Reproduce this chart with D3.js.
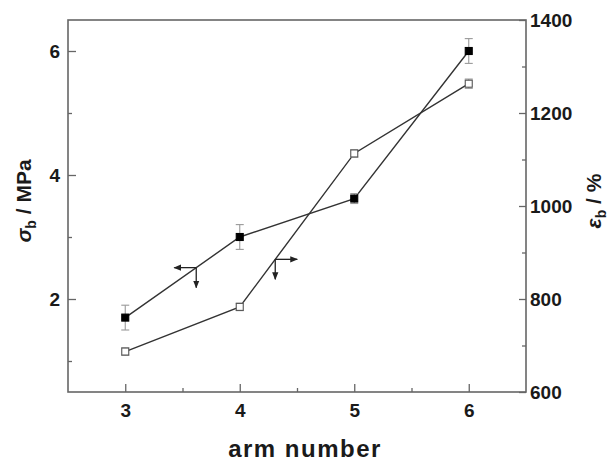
<!DOCTYPE html>
<html>
<head>
<meta charset="utf-8">
<script src="https://cdn.jsdelivr.net/npm/d3@7"></script>
<style>
  body { margin: 0; background: #fff; }
  text { font-family: "Liberation Sans", Arial, sans-serif; font-weight: bold; fill: #1a1a1a; }
</style>
</head>
<body>
<div id="svgContainer"></div>
<script>
// data
var armNumbers = [3, 4, 5, 6];
var sigmaB = [1.7, 3.0, 3.62, 6.0];
var sigmaErr = [0.2, 0.2, 0.08, 0.2];
var epsB = [687, 783, 1113, 1263];
var epsErr = [8, 8, 8, 10];

var armTicks = [3, 4, 5, 6];
var armMinor = [3.5, 4.5, 5.5];
var sigmaTicks = [2, 4, 6];
var sigmaMinor = [1, 3, 5];
var epsTicks = [600, 800, 1000, 1200, 1400];
var epsMinor = [700, 900, 1100, 1300];

// where the little "which axis" arrows sit on each line
var sigmaArrowAt = 3.62;
var epsArrowAt = 4.31;

var W = 616, H = 461;
var plotL = 68, plotT = 20, plotR = 526, plotB = 392;

var svg = d3.select("#svgContainer").append("svg")
  .attr("width", W).attr("height", H);

var x = d3.scaleLinear().domain([2.5, 6.5]).range([plotL, plotR]);
var yL = d3.scaleLinear().domain([0.5, 6.5]).range([plotB, plotT]);
var yR = d3.scaleLinear().domain([600, 1400]).range([plotB, plotT]);

var axisColor = "#666";

// frame
svg.append("rect")
  .attr("x", plotL).attr("y", plotT)
  .attr("width", plotR - plotL).attr("height", plotB - plotT)
  .attr("fill", "none").attr("stroke", axisColor).attr("stroke-width", 1.6);

function styleAxis(g) {
  g.select(".domain").remove();
  g.selectAll(".tick line").attr("stroke", axisColor).attr("stroke-width", 1.3);
  g.selectAll("text").attr("font-size", 19).attr("fill", "#1a1a1a");
}

// bottom
svg.append("g").attr("transform", "translate(0," + plotB + ")")
  .call(d3.axisBottom(x).tickValues(armTicks).tickSize(-8).tickPadding(12).tickFormat(d3.format("d")))
  .call(styleAxis);
svg.append("g").attr("transform", "translate(0," + plotB + ")")
  .call(d3.axisBottom(x).tickValues(armMinor).tickSize(-4).tickFormat(""))
  .call(styleAxis);

// left
svg.append("g").attr("transform", "translate(" + plotL + ",0)")
  .call(d3.axisLeft(yL).tickValues(sigmaTicks).tickSize(-8).tickPadding(8).tickFormat(d3.format("d")))
  .call(styleAxis);
svg.append("g").attr("transform", "translate(" + plotL + ",0)")
  .call(d3.axisLeft(yL).tickValues(sigmaMinor).tickSize(-4).tickFormat(""))
  .call(styleAxis);

// right
svg.append("g").attr("transform", "translate(" + plotR + ",0)")
  .call(d3.axisRight(yR).tickValues(epsTicks).tickSize(-7).tickPadding(4).tickFormat(d3.format("d")))
  .call(styleAxis);
svg.append("g").attr("transform", "translate(" + plotR + ",0)")
  .call(d3.axisRight(yR).tickValues(epsMinor).tickSize(-4).tickFormat(""))
  .call(styleAxis);

// axis titles
svg.append("text")
  .attr("x", (plotL + plotR) / 2 + 8).attr("y", 457)
  .attr("text-anchor", "middle").attr("font-size", 24)
  .attr("letter-spacing", 1.5)
  .text("arm number");

var tl = svg.append("text")
  .attr("transform", "translate(31," + ((plotT + plotB) / 2 - 5) + ") rotate(-90)")
  .attr("text-anchor", "middle").attr("font-size", 21);
tl.append("tspan").attr("font-style", "italic").text("σ");
tl.append("tspan").attr("font-size", 14).attr("dy", 5).text("b");
tl.append("tspan").attr("dy", -5).text(" / MPa");

var tr = svg.append("text")
  .attr("transform", "translate(601," + ((plotT + plotB) / 2 - 5) + ") rotate(-90)")
  .attr("text-anchor", "middle").attr("font-size", 21);
tr.append("tspan").attr("font-style", "italic").text("ε");
tr.append("tspan").attr("font-size", 14).attr("dy", 5).text("b");
tr.append("tspan").attr("dy", -5).text(" / %");

// series
var sigmaPts = armNumbers.map(function(a, i) { return { x: a, y: sigmaB[i], e: sigmaErr[i] }; });
var epsPts = armNumbers.map(function(a, i) { return { x: a, y: epsB[i], e: epsErr[i] }; });

function drawSeries(pts, yScale, filled) {
  var line = d3.line().x(function(d) { return x(d.x); }).y(function(d) { return yScale(d.y); });
  svg.append("path").datum(pts).attr("d", line)
    .attr("fill", "none").attr("stroke", "#333").attr("stroke-width", 1.4);

  var eb = svg.append("g").attr("stroke", "#999").attr("stroke-width", 1.1);
  pts.forEach(function(d) {
    var cx = x(d.x), y1 = yScale(d.y + d.e), y2 = yScale(d.y - d.e);
    eb.append("line").attr("x1", cx).attr("x2", cx).attr("y1", y1).attr("y2", y2);
    eb.append("line").attr("x1", cx - 4).attr("x2", cx + 4).attr("y1", y1).attr("y2", y1);
    eb.append("line").attr("x1", cx - 4).attr("x2", cx + 4).attr("y1", y2).attr("y2", y2);
  });

  svg.append("g").selectAll("rect").data(pts).enter().append("rect")
    .attr("x", function(d) { return x(d.x) - 3.5; })
    .attr("y", function(d) { return yScale(d.y) - 3.5; })
    .attr("width", 7).attr("height", 7)
    .attr("fill", filled ? "#000" : "#fff")
    .attr("stroke", filled ? "#000" : "#555")
    .attr("stroke-width", 1.1);
}

drawSeries(sigmaPts, yL, true);
drawSeries(epsPts, yR, false);

// arrow markers
var defs = svg.append("defs");
defs.append("marker").attr("id", "head")
  .attr("viewBox", "0 0 10 10").attr("refX", 9).attr("refY", 5)
  .attr("markerWidth", 6).attr("markerHeight", 6).attr("orient", "auto")
  .append("path").attr("d", "M0,1 L10,5 L0,9 Z").attr("fill", "#222");

function valueOn(pts, at) {
  var i = d3.bisectRight(pts.map(function(d) { return d.x; }), at) - 1;
  var a = pts[i], b = pts[i + 1];
  var t = (at - a.x) / (b.x - a.x);
  return a.y + t * (b.y - a.y);
}

function drawArrow(px, py, dirX) {
  svg.append("line").attr("x1", px).attr("y1", py).attr("x2", px + dirX * 22).attr("y2", py)
    .attr("stroke", "#222").attr("stroke-width", 1.3).attr("marker-end", "url(#head)");
  svg.append("line").attr("x1", px).attr("y1", py).attr("x2", px).attr("y2", py + 20)
    .attr("stroke", "#222").attr("stroke-width", 1.3).attr("marker-end", "url(#head)");
}

drawArrow(x(sigmaArrowAt), yL(valueOn(sigmaPts, sigmaArrowAt)), -1);
drawArrow(x(epsArrowAt), yR(valueOn(epsPts, epsArrowAt)), 1);
</script>
</body>
</html>
